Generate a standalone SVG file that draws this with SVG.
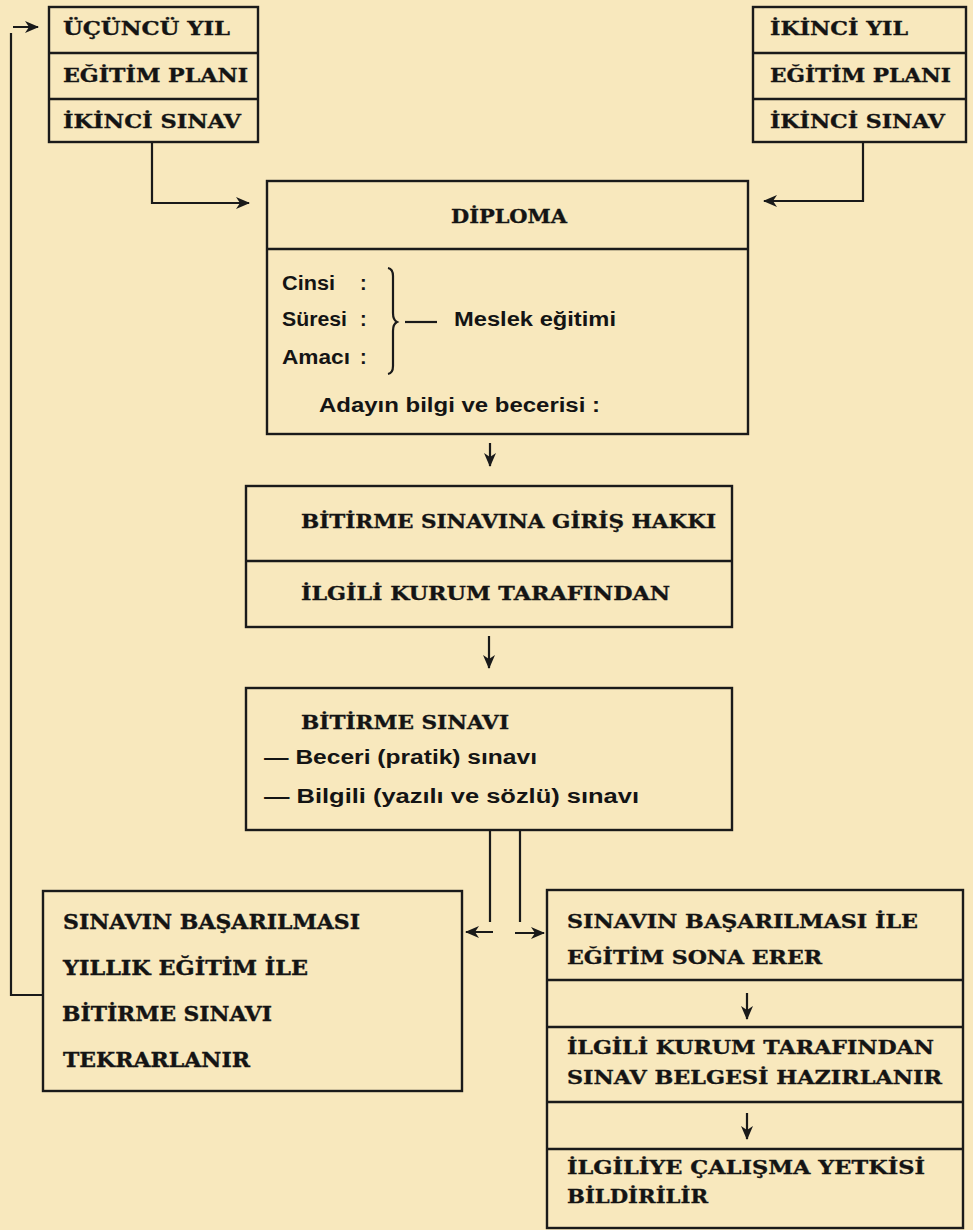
<svg xmlns="http://www.w3.org/2000/svg" width="973" height="1230" viewBox="0 0 973 1230">
<style>
.bg{fill:#f8e8bd}
.box{fill:none;stroke:#1a1a1a;stroke-width:2.4}
.div{stroke:#1a1a1a;stroke-width:2.6}
.con{fill:none;stroke:#1a1a1a;stroke-width:2.2}
.slab{font-family:"DejaVu Serif","Liberation Serif",serif;font-weight:bold;font-size:19px;fill:#141414;stroke:#141414;stroke-width:0.35}
.slab20{font-family:"DejaVu Serif","Liberation Serif",serif;font-weight:bold;font-size:20.5px;fill:#141414;stroke:#141414;stroke-width:0.35}
.sans{font-family:"Liberation Sans",Arial,sans-serif;font-weight:bold;font-size:20px;fill:#141414}
</style>
<defs>
<marker id="ah" markerWidth="15" markerHeight="13" refX="13" refY="6.5" orient="auto" markerUnits="userSpaceOnUse">
<path d="M0,0.5 L14,6.5 L0,12.5 L4,6.5 z" fill="#1a1a1a"/>
</marker>
</defs>
<rect class="bg" x="0" y="0" width="973" height="1230"/>

<g id="connectors">
<path class="con" d="M43,995 H11 V33 M13,27 H38" marker-end="url(#ah)"/>
<path class="con" d="M152,142 V203 H249" marker-end="url(#ah)"/>
<path class="con" d="M863,142 V201 H764" marker-end="url(#ah)"/>
<path class="con" d="M490,443 V466" marker-end="url(#ah)"/>
<path class="con" d="M489,636 V668" marker-end="url(#ah)"/>
<path class="con" d="M490,830 V922 M493,932 H466" marker-end="url(#ah)"/>
<path class="con" d="M520,830 V922 M515,933 H544" marker-end="url(#ah)"/>
<path class="con" d="M747,993 V1019" marker-end="url(#ah)"/>
<path class="con" d="M747,1113 V1139" marker-end="url(#ah)"/>
</g>

<g id="ucuncu-yil">
<rect class="box" x="49" y="7" width="209" height="135"/>
<line class="div" x1="49" y1="53" x2="258" y2="53"/>
<line class="div" x1="49" y1="99" x2="258" y2="99"/>
<text class="slab" x="63" y="35" textLength="167" lengthAdjust="spacingAndGlyphs">ÜÇÜNCÜ YIL</text>
<text class="slab" x="63" y="82" textLength="185" lengthAdjust="spacingAndGlyphs">EĞİTİM PLANI</text>
<text class="slab" x="63" y="128" textLength="178" lengthAdjust="spacingAndGlyphs">İKİNCİ SINAV</text>
</g>

<g id="ikinci-yil">
<rect class="box" x="753" y="7" width="213" height="135"/>
<line class="div" x1="753" y1="53" x2="966" y2="53"/>
<line class="div" x1="753" y1="99" x2="966" y2="99"/>
<text class="slab" x="770" y="35" textLength="138" lengthAdjust="spacingAndGlyphs">İKİNCİ YIL</text>
<text class="slab" x="770" y="82" textLength="181" lengthAdjust="spacingAndGlyphs">EĞİTİM PLANI</text>
<text class="slab" x="770" y="128" textLength="175" lengthAdjust="spacingAndGlyphs">İKİNCİ SINAV</text>
</g>

<g id="diploma">
<rect class="box" x="267" y="181" width="481" height="253"/>
<line class="div" x1="267" y1="249" x2="748" y2="249"/>
<text class="slab" x="451" y="223" textLength="116" lengthAdjust="spacingAndGlyphs">DİPLOMA</text>
<text class="sans" x="282" y="290" textLength="53" lengthAdjust="spacingAndGlyphs">Cinsi</text>
<text class="sans" x="282" y="326" textLength="65" lengthAdjust="spacingAndGlyphs">Süresi</text>
<text class="sans" x="282" y="364" textLength="68" lengthAdjust="spacingAndGlyphs">Amacı</text>
<text class="sans" x="360" y="290">:</text>
<text class="sans" x="360" y="326">:</text>
<text class="sans" x="360" y="364">:</text>
<path class="con" d="M388,268 Q393,269 393,276 V313 Q393,320 397,322 Q393,324 393,331 V366 Q393,373 388,374"/>
<line class="con" x1="405" y1="322" x2="437" y2="322"/>
<text class="sans" x="454" y="326" textLength="162" lengthAdjust="spacingAndGlyphs">Meslek eğitimi</text>
<text class="sans" x="319" y="412" textLength="281" lengthAdjust="spacingAndGlyphs">Adayın bilgi ve becerisi :</text>
</g>

<g id="giris-hakki">
<rect class="box" x="246" y="486" width="486" height="141"/>
<line class="div" x1="246" y1="561" x2="732" y2="561"/>
<text class="slab" x="301" y="528" textLength="415" lengthAdjust="spacingAndGlyphs">BİTİRME SINAVINA GİRİŞ HAKKI</text>
<text class="slab" x="301" y="600" textLength="369" lengthAdjust="spacingAndGlyphs">İLGİLİ KURUM TARAFINDAN</text>
</g>

<g id="bitirme-sinavi">
<rect class="box" x="246" y="688" width="486" height="142"/>
<text class="slab" x="301" y="729" textLength="208" lengthAdjust="spacingAndGlyphs">BİTİRME SINAVI</text>
<text class="sans" x="264" y="764" textLength="273" lengthAdjust="spacingAndGlyphs">— Beceri (pratik) sınavı</text>
<text class="sans" x="264" y="803" textLength="375" lengthAdjust="spacingAndGlyphs">— Bilgili (yazılı ve sözlü) sınavı</text>
</g>

<g id="tekrarlanir">
<rect class="box" x="43" y="891" width="419" height="200"/>
<text class="slab20" x="63" y="929" textLength="297" lengthAdjust="spacingAndGlyphs">SINAVIN BAŞARILMASI</text>
<text class="slab20" x="63" y="975" textLength="245" lengthAdjust="spacingAndGlyphs">YILLIK EĞİTİM İLE</text>
<text class="slab20" x="62" y="1021" textLength="210" lengthAdjust="spacingAndGlyphs">BİTİRME SINAVI</text>
<text class="slab20" x="63" y="1067" textLength="187" lengthAdjust="spacingAndGlyphs">TEKRARLANIR</text>
</g>

<g id="sona-erer">
<rect class="box" x="547" y="890" width="416" height="338"/>
<line class="div" x1="547" y1="980" x2="963" y2="980"/>
<line class="div" x1="547" y1="1027" x2="963" y2="1027"/>
<line class="div" x1="547" y1="1102" x2="963" y2="1102"/>
<line class="div" x1="547" y1="1149" x2="963" y2="1149"/>
<text class="slab" x="567" y="928" textLength="351" lengthAdjust="spacingAndGlyphs">SINAVIN BAŞARILMASI İLE</text>
<text class="slab" x="567" y="964" textLength="255" lengthAdjust="spacingAndGlyphs">EĞİTİM SONA ERER</text>
<text class="slab" x="567" y="1054" textLength="367" lengthAdjust="spacingAndGlyphs">İLGİLİ KURUM TARAFINDAN</text>
<text class="slab" x="567" y="1084" textLength="375" lengthAdjust="spacingAndGlyphs">SINAV BELGESİ HAZIRLANIR</text>
<text class="slab" x="567" y="1174" textLength="358" lengthAdjust="spacingAndGlyphs">İLGİLİYE ÇALIŞMA YETKİSİ</text>
<text class="slab" x="567" y="1203" textLength="141" lengthAdjust="spacingAndGlyphs">BİLDİRİLİR</text>
</g>
</svg>
